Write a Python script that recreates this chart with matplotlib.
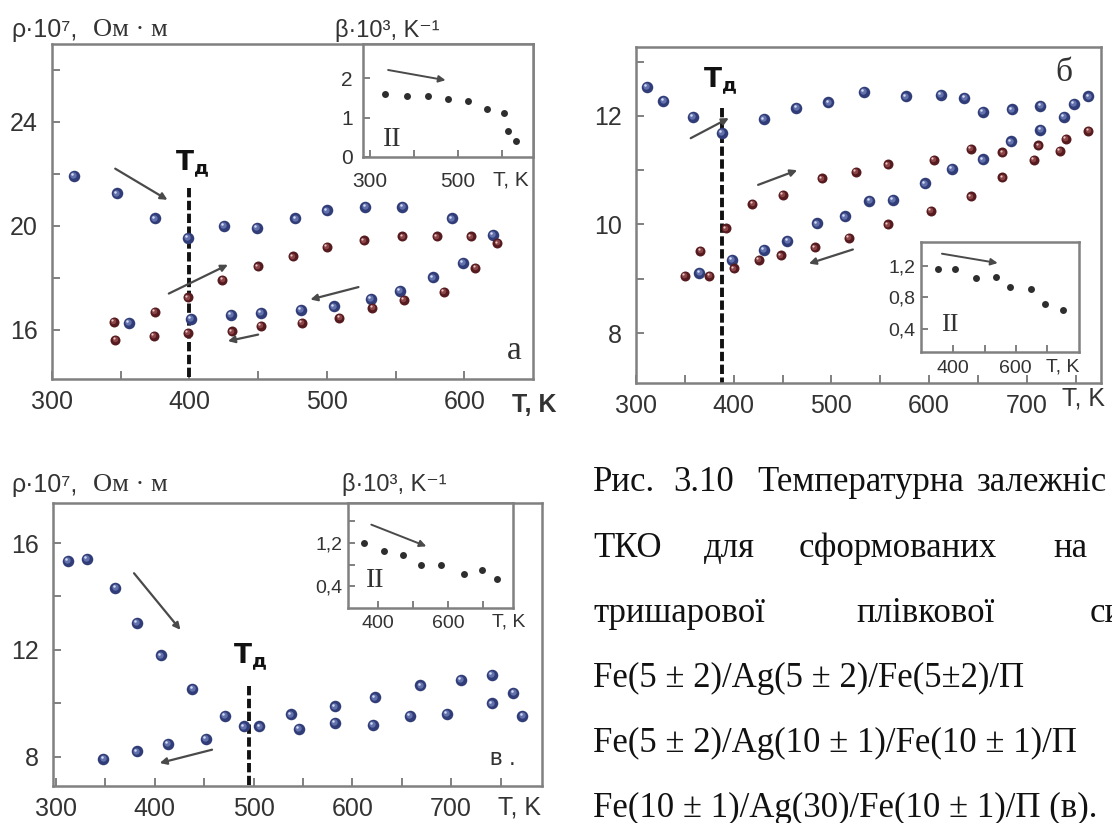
import matplotlib
matplotlib.use('Agg')
import matplotlib.pyplot as plt
from matplotlib.transforms import offset_copy

plt.rcParams['font.family'] = ['Liberation Sans', 'DejaVu Sans']
plt.rcParams['mathtext.fontset'] = 'dejavusans'

# --- panel a: Fe(5)/Ag(5)/Fe(5) ---
a_blue_heat_T = [316, 347, 375, 399, 425, 449, 477, 500, 528, 555, 591, 621]
a_blue_heat_rho = [21.93, 21.25, 20.29, 19.53, 19.99, 19.91, 20.29, 20.6, 20.73, 20.74, 20.29, 19.64]
a_blue_cool_T = [356, 401, 430, 452, 481, 505, 532, 553, 577, 599]
a_blue_cool_rho = [16.26, 16.41, 16.58, 16.65, 16.77, 16.9, 17.18, 17.5, 18.02, 18.57]
a_red_heat_T = [345, 375, 399, 424, 450, 475, 500, 527, 555, 580, 605, 624]
a_red_heat_rho = [16.29, 16.68, 17.25, 17.93, 18.44, 18.82, 19.19, 19.44, 19.59, 19.59, 19.59, 19.33]
a_red_cool_T = [346, 374, 399, 431, 452, 482, 509, 533, 556, 585, 608]
a_red_cool_rho = [15.62, 15.77, 15.88, 15.94, 16.16, 16.26, 16.45, 16.84, 17.16, 17.45, 18.37]
a_beta_T = [334, 384, 432, 478, 522, 566, 604, 614, 632]
a_beta = [1.61, 1.55, 1.56, 1.48, 1.43, 1.23, 1.12, 0.67, 0.40]
a_Td = 400

# --- panel б: Fe(5)/Ag(10)/Fe(10) ---
b_blue_heat_T = [311, 328, 358, 388, 431, 464, 497, 533, 576, 612, 636, 655, 685, 714, 738, 748, 763]
b_blue_heat_rho = [12.54, 12.28, 11.98, 11.69, 11.94, 12.15, 12.25, 12.44, 12.36, 12.39, 12.33, 12.08,
                   12.12, 12.18, 11.98, 12.22, 12.36]
b_blue_cool_T = [365, 398, 431, 455, 485, 514, 539, 563, 596, 623, 655, 684, 714]
b_blue_cool_rho = [9.11, 9.35, 9.53, 9.70, 10.02, 10.15, 10.43, 10.46, 10.76, 11.03, 11.2, 11.53, 11.74]
b_red_T = [350, 366, 375, 392, 400, 419, 426, 450, 448, 483, 490, 518, 525, 558, 558, 602, 605,
           643, 643, 675, 675, 707, 712, 734, 740, 763]
b_red_rho = [9.05, 9.51, 9.05, 9.93, 9.19, 10.38, 9.35, 10.55, 9.43, 9.58, 10.85, 9.75, 10.97, 11.11,
             10.0, 10.25, 11.19, 10.52, 11.4, 10.87, 11.33, 11.19, 11.46, 11.36, 11.58, 11.72]
b_beta_T = [350, 406, 474, 536, 583, 650, 694, 750]
b_beta = [1.16, 1.16, 1.05, 1.06, 0.93, 0.905, 0.72, 0.64]
b_Td = 388

# --- panel в: Fe(10)/Ag(30)/Fe(10) ---
c_heat_T = [312, 331, 360, 382, 406, 438, 471, 490, 506, 538, 546, 582, 582, 623, 621, 658, 669,
            696, 710, 741, 741, 763, 772]
c_heat_rho = [15.34, 15.4, 14.33, 13.0, 11.79, 10.53, 9.53, 9.13, 9.13, 9.58, 9.05, 9.88, 9.26,
              10.22, 9.18, 9.53, 10.67, 9.6, 10.88, 11.07, 10.0, 10.4, 9.53]
c_cool_T = [348, 382, 413, 452]
c_cool_rho = [7.93, 8.2, 8.47, 8.66]
c_beta_T = [359, 415, 471, 523, 579, 646, 699, 740]
c_beta = [1.2, 1.06, 0.975, 0.8, 0.8, 0.63, 0.71, 0.545]
c_Td = 495

W, H = 1112, 823
FRAME = '#808080'
INK = '#333333'
BLUE = ('#303d78', '#6371ad', '#d5dbf2')
RED = ('#561b1f', '#8c4447', '#e6c6c6')

fig = plt.figure(figsize=(W / 100, H / 100), dpi=100)


def box(l, t, r, b):
    return fig.add_axes([l / W, 1 - b / H, (r - l) / W, (b - t) / H])


def ftext(x, y, s, **kw):
    kw.setdefault('color', INK)
    fig.text(x / W, 1 - y / H, s, **kw)


def style(ax, xlim, ylim, xt, yt, xl=None, yl=None, xminor=(), yminor=(),
          size=18, xpad=8, ypad=10, length=6):
    ax.set_xlim(xlim)
    ax.set_ylim(ylim)
    ax.set_xticks(xt)
    ax.set_yticks(yt)
    ax.set_xticks(list(xminor), minor=True)
    ax.set_yticks(list(yminor), minor=True)
    if xl is not None:
        ax.set_xticklabels(xl)
    if yl is not None:
        ax.set_yticklabels(yl)
    ax.tick_params(which='both', direction='in', color=FRAME, width=1.4,
                   top=False, right=False)
    ax.tick_params(which='major', length=length, labelsize=size, labelcolor=INK)
    ax.tick_params(which='minor', length=length)
    ax.tick_params(axis='x', pad=xpad)
    ax.tick_params(axis='y', pad=ypad)
    for s in ax.spines.values():
        s.set_color(FRAME)
        s.set_linewidth(1.8)


def balls(ax, x, y, colors, ms):
    base, mid, hi = colors
    ax.plot(x, y, 'o', ms=ms, color=base, mec=base, mew=0, zorder=3)
    t1 = offset_copy(ax.transData, fig=fig, x=-0.5, y=0.5, units='points')
    ax.plot(x, y, 'o', ms=ms * 0.55, color=mid, mew=0, zorder=4, transform=t1)
    t2 = offset_copy(ax.transData, fig=fig, x=-1.2, y=1.2, units='points')
    ax.plot(x, y, 'o', ms=ms * 0.22, color=hi, mew=0, zorder=5, transform=t2)


def arrow(ax, start, end, lw=1.6):
    ax.annotate('', xy=end, xytext=start,
                arrowprops=dict(arrowstyle='-|>', color='#4a4a4a', lw=lw,
                                mutation_scale=10, shrinkA=0, shrinkB=0))


def td_line(ax, x, ytop, ylow, lx, ly):
    ax.plot([x, x], [ytop, ylow], color='#111111', lw=2.8, ls=(0, (2.4, 0.9)), zorder=2)
    ax.text(lx, ly, r'$\mathbf{T}_{\mathbf{д}}$', fontsize=19, ha='center', va='center',
            color='#111111')


def inset_dots(ax, x, y):
    ax.plot(x, y, 'o', ms=5, color='#2e2e2e', mew=0)


def rho_label(y):
    ftext(11, y, 'ρ·10⁷,', fontsize=18, ha='left', va='center')
    ftext(93, y, 'Ом · м', fontsize=19, family='Liberation Serif', ha='left', va='center')


# ---------------- panel a ----------------
ax = box(52, 44, 533, 379)
style(ax, (300, 650), (14.1, 27), [300, 400, 500, 600], [16, 20, 24],
      xminor=[350, 450, 550], yminor=[18, 22, 26])
td_line(ax, a_Td, 21.45, 14.1, 402, 22.35)
balls(ax, a_blue_heat_T, a_blue_heat_rho, BLUE, 8.3)
balls(ax, a_blue_cool_T, a_blue_cool_rho, BLUE, 8.3)
balls(ax, a_red_heat_T, a_red_heat_rho, RED, 7.2)
balls(ax, a_red_cool_T, a_red_cool_rho, RED, 7.2)
arrow(ax, (346, 22.2), (384, 21.0))
arrow(ax, (385, 17.39), (428, 18.5))
arrow(ax, (523, 17.64), (488, 17.16))
arrow(ax, (450, 15.81), (428, 15.56))
ax.text(636, 15.2, 'а', fontsize=24, family='Liberation Serif', color=INK,
        ha='center', va='center')

ins = box(362.5, 44, 533, 157)
style(ins, (284, 670), (0, 2.87), [300, 400, 500, 600], [0, 1, 2],
      xl=['300', '', '500', ''], size=15, xpad=11, ypad=7, length=5)
inset_dots(ins, a_beta_T, a_beta)
arrow(ins, (342, 2.21), (472, 1.95), lw=1.4)
ins.text(352, 0.45, 'II', fontsize=20, family='Liberation Serif', color=INK,
         ha='center', va='center')
ftext(511, 180, 'T, K', fontsize=15, ha='center', va='center')

rho_label(30)
ftext(335, 30, 'β·10³, K⁻¹', fontsize=17, ha='left', va='center')
ftext(534, 405, 'T, K', fontsize=18, fontweight='bold', ha='center', va='center')

# ---------------- panel б ----------------
ax = box(636, 47, 1101, 383)
style(ax, (300, 776), (7.08, 13.27), [300, 400, 500, 600, 700], [8, 10, 12],
      xminor=[350, 450, 550, 650, 750], yminor=[9, 11, 13])
td_line(ax, b_Td, 12.15, 7.08, 386, 12.63)
balls(ax, b_blue_heat_T, b_blue_heat_rho, BLUE, 8.3)
balls(ax, b_blue_cool_T, b_blue_cool_rho, BLUE, 8.3)
balls(ax, b_red_T, b_red_rho, RED, 7.2)
arrow(ax, (356, 11.59), (395, 11.96))
arrow(ax, (425, 10.73), (465, 11.0))
arrow(ax, (522, 9.54), (477, 9.28))
ax.text(738, 12.8, 'б', fontsize=24, family='Liberation Serif', color=INK,
        ha='center', va='center')

ins = box(921, 242, 1079, 352)
style(ins, (297, 802), (0.1, 1.51), [400, 500, 600, 700], [0.4, 0.8, 1.2],
      xl=['400', '', '600', ''], yl=['0,4', '0,8', '1,2'],
      size=14, xpad=6, ypad=4, length=5)
inset_dots(ins, b_beta_T, b_beta)
arrow(ins, (364, 1.36), (542, 1.24), lw=1.4)
ins.text(389, 0.45, 'II', fontsize=19, family='Liberation Serif', color=INK,
         ha='center', va='center')
ftext(1063, 367, 'T, K', fontsize=14, ha='center', va='center')
ftext(1084, 399, 'T, K', fontsize=18, ha='center', va='center')

# ---------------- panel в ----------------
ax = box(53, 503, 542, 786)
style(ax, (297, 792), (6.9, 17.5), [300, 400, 500, 600, 700], [8, 12, 16],
      xminor=[350, 450, 550, 650, 750], yminor=[10, 14])
td_line(ax, c_Td, 10.63, 6.9, 496, 11.7)
balls(ax, c_heat_T, c_heat_rho, BLUE, 8.3)
balls(ax, c_cool_T, c_cool_rho, BLUE, 8.3)
arrow(ax, (379, 14.87), (426, 12.75))
arrow(ax, (458, 8.26), (405, 7.76))
ax.text(752, 7.9, 'в .', fontsize=17, color=INK, ha='center', va='center')

ins = box(348, 503, 513, 608)
style(ins, (313, 787), (0, 1.94), [400, 500, 600, 700], [0.4, 0.8, 1.2, 1.6],
      xl=['400', '', '600', ''], yl=['0,4', '', '1,2', ''],
      size=14, xpad=5, ypad=4, length=5)
inset_dots(ins, c_beta_T, c_beta)
arrow(ins, (380, 1.54), (538, 1.14), lw=1.4)
ins.text(390, 0.5, 'II', fontsize=20, family='Liberation Serif', color=INK,
         ha='center', va='center')
ftext(509, 622, 'T, K', fontsize=14, ha='center', va='center')

rho_label(485)
ftext(342, 485, 'β·10³, K⁻¹', fontsize=17, ha='left', va='center')
ftext(519, 807, 'T, K', fontsize=18, ha='center', va='center')

# ---------------- caption (justified lines run off the right edge) ----------------
cap = dict(fontsize=25, family='Liberation Serif', color='#111111', ha='left', va='baseline')
for x, w in [(593, 'Рис.'), (673, '3.10'), (757, 'Температурна'), (976, 'залежніс')]:
    ftext(x, 491, w, **cap)
for x, w in [(593, 'ТКО'), (704, 'для'), (799, 'сформованих'), (1053, 'на')]:
    ftext(x, 557, w, **cap)
for x, w in [(593, 'тришарової'), (856, 'плівкової'), (1090, 'си')]:
    ftext(x, 622, w, **cap)
ftext(593, 687, 'Fe(5 ± 2)/Ag(5 ± 2)/Fe(5±2)/П', **cap)
ftext(593, 752, 'Fe(5 ± 2)/Ag(10 ± 1)/Fe(10 ± 1)/П', **cap)
ftext(593, 817, 'Fe(10 ± 1)/Ag(30)/Fe(10 ± 1)/П (в).', **cap)

fig.savefig('out.png', dpi=100)
